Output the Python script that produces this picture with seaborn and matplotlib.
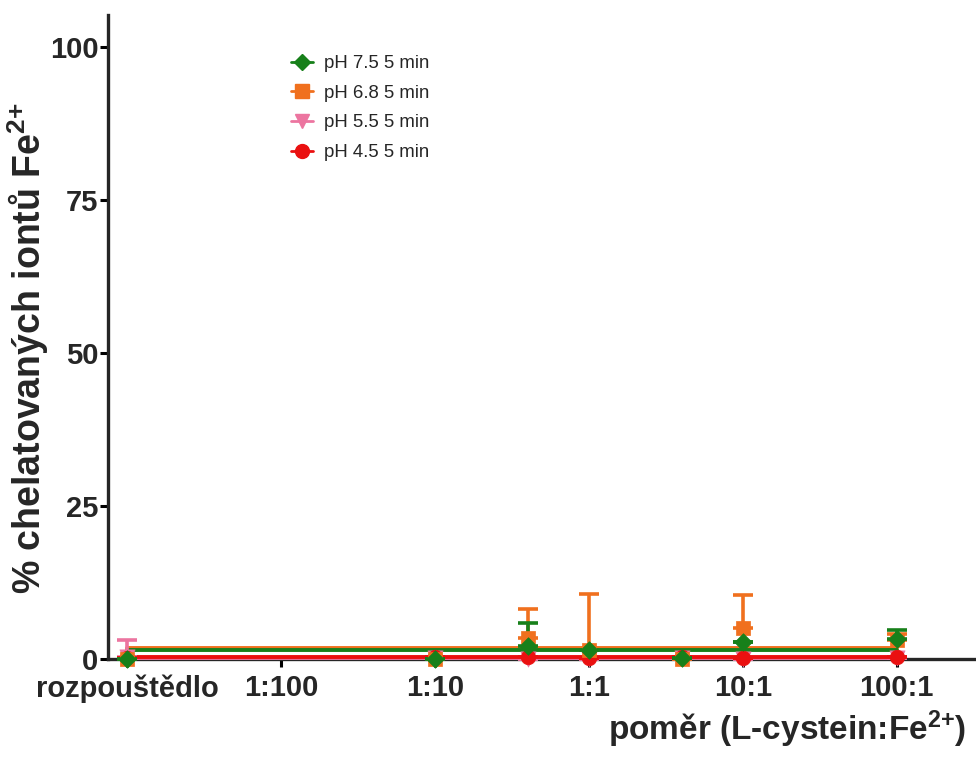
import numpy as np
import pandas as pd
import matplotlib
matplotlib.use("Agg")
import matplotlib.pyplot as plt
from matplotlib.lines import Line2D
import seaborn as sns

# ---------------- data ----------------
ratio = [0.001, 0.1, 0.4, 1, 4, 10, 100]          # 0.001 = rozpouštědlo position
tick_ratios = [0.001, 0.01, 0.1, 1, 10, 100]
tick_labels = ["rozpouštědlo", "1:100", "1:10", "1:1", "10:1", "100:1"]

series = ["pH 7.5 5 min", "pH 6.8 5 min", "pH 5.5 5 min", "pH 4.5 5 min"]
ph75 = [0.0, 0.0, 2.2, 1.5, 0.2, 2.8, 3.3]
err75 = [0.0, 0.0, 3.7, 0.0, 0.0, 0.0, 1.5]
ph68 = [0.0, 0.0, 3.4, 1.5, 0.0, 5.0, 3.1]
err68 = [0.0, 0.0, 4.8, 9.1, 0.0, 5.4, 1.0]
ph55 = [0.3, 0.1, 0.0, 0.0, 0.1, 0.0, 0.1]
err55 = [2.8, 0.0, 0.0, 0.0, 0.0, 0.0, 0.0]
ph45 = [0.2, 0.3, 0.3, 0.2, 0.3, 0.2, 0.3]
err45 = [0.0, 0.0, 0.0, 0.0, 0.0, 0.0, 0.0]

colors = {"pH 7.5 5 min": "#17801a", "pH 6.8 5 min": "#f0701e",
          "pH 5.5 5 min": "#ec75a0", "pH 4.5 5 min": "#ea1010"}
markers = {"pH 7.5 5 min": "D", "pH 6.8 5 min": "s",
           "pH 5.5 5 min": "v", "pH 4.5 5 min": "o"}
msize = {"pH 7.5 5 min": 80, "pH 6.8 5 min": 110,
         "pH 5.5 5 min": 120, "pH 4.5 5 min": 110}

values = {"pH 7.5 5 min": (ph75, err75), "pH 6.8 5 min": (ph68, err68),
          "pH 5.5 5 min": (ph55, err55), "pH 4.5 5 min": (ph45, err45)}

rows = []
for s in series:
    v, e = values[s]
    for r, y, er in zip(ratio, v, e):
        rows.append({"ratio": r, "value": y, "err": er, "series": s})
df = pd.DataFrame(rows)

# ---------------- style ----------------
sns.set_style("ticks")
plt.rcParams["font.family"] = ["Liberation Sans", "DejaVu Sans"]
plt.rcParams["mathtext.fontset"] = "custom"
plt.rcParams["mathtext.rm"] = "Liberation Sans:bold"
plt.rcParams["mathtext.bf"] = "Liberation Sans:bold"
plt.rcParams["mathtext.it"] = "Liberation Sans:bold"
plt.rcParams["mathtext.default"] = "rm"

fig = plt.figure(figsize=(9.76, 7.58), dpi=100)
ax = fig.add_axes([108 / 976, 1 - 659 / 758, (975 - 108) / 976, (659 - 15) / 758])
ax.set_xscale("log")

draw_order = ["pH 5.5 5 min", "pH 4.5 5 min", "pH 6.8 5 min", "pH 7.5 5 min"]
for i, s in enumerate(draw_order):
    sub = df[df["series"] == s]
    c = colors[s]
    m = sub["value"].mean()
    line_df = pd.DataFrame({"ratio": [sub["ratio"].min(), sub["ratio"].max()], "value": [m, m]})
    sns.lineplot(data=line_df, x="ratio", y="value", ax=ax, color=c, lw=2.8,
                 legend=False, zorder=3 + i * 0.1, clip_on=False)
    ax.errorbar(sub["ratio"], sub["value"],
                yerr=[np.zeros(len(sub)), sub["err"].values],
                fmt="none", ecolor=c, elinewidth=2.6, capsize=7, capthick=2.6,
                zorder=4, clip_on=False)
    sns.scatterplot(data=sub, x="ratio", y="value", ax=ax, color=c,
                    marker=markers[s], s=msize[s], edgecolor=c, linewidth=0.5,
                    legend=False, zorder=5, clip_on=False)

ax.set_xlim(10 ** -3.124, 10 ** 2.508)
ax.set_ylim(0, 105.2)
ax.set_xticks(tick_ratios)
ax.set_xticklabels(tick_labels)
ax.xaxis.set_minor_locator(matplotlib.ticker.NullLocator())
ax.set_yticks([0, 25, 50, 75, 100])
ax.set_xlabel("")
ax.set_ylabel("")

for lab in ax.get_xticklabels() + ax.get_yticklabels():
    lab.set_fontweight("bold")
    lab.set_fontsize(21)
ax.tick_params(axis="both", width=2.2, length=6, color="black")
ax.tick_params(axis="y", pad=1)
ax.tick_params(axis="x", pad=5)
for sp in ["left", "bottom"]:
    ax.spines[sp].set_linewidth(2.4)
sns.despine(ax=ax)

fig.text(28 / 976, 1 - 348 / 758, "% chelatovaných iontů Fe$^{2{+}}$", rotation=90,
         ha="center", va="center", fontsize=27, fontweight="bold")
fig.text(966 / 976, 1 - 740 / 758, "poměr (L-cystein:Fe$^{2{+}}$)",
         ha="right", va="baseline", fontsize=24, fontweight="bold")

handles = [Line2D([0], [0], color=colors[s], marker=markers[s], lw=2,
                  markersize=10 if markers[s] != "D" else 8.5) for s in series]
ax.legend(handles, series, loc="upper left", frameon=False, fontsize=13.4,
          bbox_to_anchor=(291 / 976, 1 - 55 / 758), bbox_transform=fig.transFigure,
          borderpad=0, borderaxespad=0, handlelength=1.2, handletextpad=0.55,
          labelspacing=0.68)

fig.savefig("out.png", dpi=100)
